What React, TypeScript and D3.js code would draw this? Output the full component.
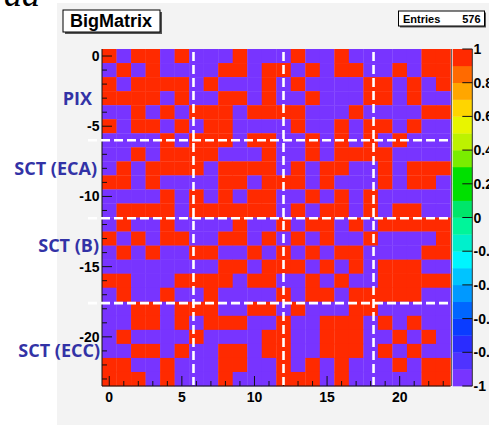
import React, { useEffect, useRef } from "react";
import * as d3 from "d3";

// 24x24 matrix, one string per row: "+" = 1 (red), "-" = -1 (violet)
const matrixRows = [
  "+-++-+---+---+--+-----++",
  "-+-+----++-++-+-++--+-++",
  "+-++++-+---+-+----++-+-+",
  "++++-+--++-+--+---++-+--",
  "--+-+-+++-++++---+----++",
  "+-++-+-++----+--+-++-+--",
  "----+-+++-++--+-+-+-+---",
  "--+-++++---+--+-++++----",
  "-+-++++-++++-+-++--+-+++",
  "++-+----++-+++-+---+-++-",
  "----+-+-+-++--+-+-+-----",
  "-++++-++++++-+-++-+-++--",
  "-+--+----+--+-++-+-+++++",
  "+-+-++--++-+-+-+--+----+",
  "-+-+--++--+-+-+-++----++",
  "--------++-+++-+-+-+++--",
  "++---++++-++--+-+--+++++",
  "-+--+--+----+-++-+++++--",
  "--++-+++--++-+---++-----",
  "--++-+-+++--+--+++-+-+--",
  "-+----+----++--+++--+-+-",
  "--++-+--++-++--+++-+-+--",
  "++--+---++--+-+-+---+-++",
  "+++-+---+---+++-+-----++",
];

const xTickLabels = [0, 5, 10, 15, 20];
const yTickLabels = [0, -5, -10, -15, -20];
const zTickLabels = [1, 0.8, 0.6, 0.4, 0.2, 0, -0.2, -0.4, -0.6, -0.8, -1];

const regionNames = ["PIX", "SCT (ECA)", "SCT (B)", "SCT (ECC)"];
const regionCenters = [-3, -8, -13.5, -21];
const regionRight = [92, 97, 99, 100];

// dashed separators (data coordinates)
const vSeparators = [5.8, 12, 18.2];
const hSeparators = [-6, -11.55, -17.6];

const entries = 576;

// palette, low to high
const paletteColors = [
  "#7834ff", "#4f33ff", "#2a2cff", "#0a3cff", "#0066ff",
  "#0099ff", "#00c4ff", "#00f5ff", "#00f0cc", "#00f59a",
  "#00e66a", "#00e000", "#00e000", "#7aed00", "#bdf200",
  "#e8f500", "#ffd500", "#ffa600", "#ff6a00", "#ff2a00",
];

const App = () => {
  const ref = useRef<SVGSVGElement>(null);

  useEffect(() => {
    const svg = d3.select(ref.current);
    svg.selectAll("*").remove();

    const font = "'Liberation Sans', Arial, sans-serif";
    const left = 102, right = 450.5, top = 49, bottom = 386;

    const data = matrixRows.flatMap((row, r) =>
      row.split("").map((ch, c) => ({ r, c, v: ch === "+" ? 1 : -1 }))
    );

    const x = d3.scaleLinear().domain([-0.5, 23.5]).range([left, right]);
    const y = d3.scaleLinear().domain([0.5, -23.5]).range([top, bottom]);
    const z = d3.scaleLinear().domain([-1, 1]).range([bottom, top]);
    const color = d3.scaleQuantize<string>().domain([-1, 1]).range(paletteColors);

    // backgrounds
    svg.append("rect").attr("width", 489).attr("height", 425).attr("fill", "#ffffff");
    svg.append("rect").attr("x", 57).attr("y", 3).attr("width", 432).attr("height", 422).attr("fill", "#f3f3f3");

    svg.append("text").attr("x", 4).attr("y", 6)
      .attr("font-family", "'Liberation Serif', serif").attr("font-style", "italic")
      .attr("font-size", 36).attr("fill", "#000").text("aa");

    // cells
    svg.append("g").selectAll("rect").data(data).join("rect")
      .attr("x", d => x(d.c - 0.5))
      .attr("y", d => y(-d.r + 0.5))
      .attr("width", d => x(d.c + 0.5) - x(d.c - 0.5) + 0.3)
      .attr("height", d => y(-d.r - 0.5) - y(-d.r + 0.5) + 0.3)
      .attr("fill", d => color(d.v));

    // frame right edge
    svg.append("line").attr("x1", right + 1).attr("x2", right + 1).attr("y1", top).attr("y2", bottom)
      .attr("stroke", "#666").attr("stroke-width", 1);

    // axes
    const ax = svg.append("g").attr("stroke", "#111").attr("stroke-width", 1);
    ax.append("line").attr("x1", left).attr("x2", left).attr("y1", top).attr("y2", bottom);
    ax.append("line").attr("x1", left).attr("x2", right).attr("y1", bottom).attr("y2", bottom);
    d3.range(0, 24).forEach(i => {
      const major = i % 5 === 0;
      ax.append("line").attr("x1", x(i)).attr("x2", x(i))
        .attr("y1", bottom).attr("y2", bottom - (major ? 10 : 5));
      ax.append("line").attr("x1", left).attr("x2", left + (major ? 10 : 5))
        .attr("y1", y(-i)).attr("y2", y(-i));
    });

    svg.append("g").selectAll("text").data(xTickLabels).join("text")
      .attr("x", d => x(d)).attr("y", 401.5).attr("text-anchor", "middle")
      .attr("font-family", font).attr("font-weight", "bold").attr("font-size", 14)
      .text(d => d);

    svg.append("g").selectAll("text").data(yTickLabels).join("text")
      .attr("x", 99.5).attr("y", d => y(d) + 5).attr("text-anchor", "end")
      .attr("font-family", font).attr("font-weight", "bold").attr("font-size", 14)
      .text(d => d);

    // region labels
    svg.append("g").selectAll("text").data(regionNames).join("text")
      .attr("x", (d, i) => regionRight[i]).attr("y", (d, i) => y(regionCenters[i]) + 6.5)
      .attr("text-anchor", "end")
      .attr("font-family", "'Open Sans', sans-serif").attr("font-weight", "bold").attr("font-size", 18)
      .attr("fill", "#3232a6").text(d => d);

    // dashed separators
    const sep = svg.append("g").attr("stroke", "#ffffff").attr("stroke-width", 2.6)
      .attr("stroke-dasharray", "9,4");
    vSeparators.forEach(v => {
      sep.append("line").attr("x1", x(v)).attr("x2", x(v)).attr("y1", top + 3).attr("y2", bottom - 1);
    });
    hSeparators.forEach(v => {
      sep.append("line").attr("x1", 88).attr("x2", 453).attr("y1", y(v)).attr("y2", y(v));
    });

    // palette
    const px0 = 452.7, px1 = 472.3;
    const bands = d3.range(paletteColors.length);
    const step = 2 / paletteColors.length;
    svg.append("g").selectAll("rect").data(bands).join("rect")
      .attr("x", px0).attr("width", px1 - px0)
      .attr("y", i => z(-1 + (i + 1) * step))
      .attr("height", i => z(-1 + i * step) - z(-1 + (i + 1) * step) + 0.3)
      .attr("fill", i => paletteColors[i]);
    svg.append("line").attr("x1", px1).attr("x2", px1).attr("y1", top).attr("y2", bottom)
      .attr("stroke", "#333");
    svg.append("g").selectAll("line").data(zTickLabels).join("line")
      .attr("x1", px1 - 10).attr("x2", px1).attr("y1", d => z(d)).attr("y2", d => z(d))
      .attr("stroke", "#111");
    svg.append("g").selectAll("text").data(zTickLabels).join("text")
      .attr("x", 473.5).attr("y", d => z(d) + 5)
      .attr("font-family", font).attr("font-weight", "bold").attr("font-size", 14)
      .text(d => d);

    // title box
    svg.append("rect").attr("x", 65).attr("y", 12).attr("width", 97).attr("height", 22).attr("fill", "#555");
    svg.append("rect").attr("x", 63).attr("y", 10).attr("width", 97).attr("height", 22)
      .attr("fill", "#ffffff").attr("stroke", "#000");
    svg.append("text").attr("x", 111).attr("y", 26.5).attr("text-anchor", "middle")
      .attr("font-family", font).attr("font-weight", "bold").attr("font-size", 18).text("BigMatrix");

    // stats box
    svg.append("rect").attr("x", 400).attr("y", 12.5).attr("width", 86).attr("height", 15).attr("fill", "#555");
    svg.append("rect").attr("x", 398.5).attr("y", 11).attr("width", 86).attr("height", 15)
      .attr("fill", "#ffffff").attr("stroke", "#000");
    svg.append("text").attr("x", 403).attr("y", 22.5)
      .attr("font-family", font).attr("font-weight", "bold").attr("font-size", 11).text("Entries");
    svg.append("text").attr("x", 480.5).attr("y", 22.5).attr("text-anchor", "end")
      .attr("font-family", font).attr("font-weight", "bold").attr("font-size", 11).text(entries);
  }, []);

  return (
    <svg ref={ref} width={489} height={425}
      style={{ position: "absolute", left: 0, top: 0, display: "block" }} />
  );
};

export default App;
